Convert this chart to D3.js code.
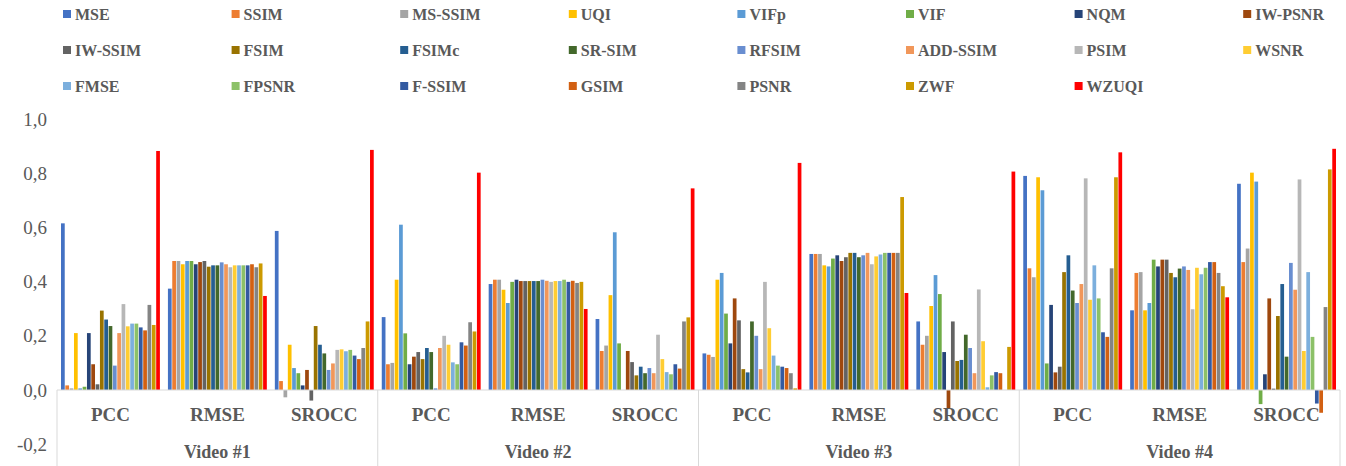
<!DOCTYPE html>
<html>
<head>
<meta charset="utf-8">
<script src="https://cdn.jsdelivr.net/npm/d3@7"></script>
<style>
  body { margin: 0; background: #fff; }
</style>
</head>
<body>
<script>
// metric names, in legend order
const series = ["MSE", "SSIM", "MS-SSIM", "UQI", "VIFp", "VIF", "NQM", "IW-PSNR",
  "IW-SSIM", "FSIM", "FSIMc", "SR-SIM", "RFSIM", "ADD-SSIM", "PSIM", "WSNR",
  "FMSE", "FPSNR", "F-SSIM", "GSIM", "PSNR", "ZWF", "WZUQI"];
const colors = ["#4472C4", "#ED7D31", "#A5A5A5", "#FFC000", "#5B9BD5", "#70AD47", "#264478", "#9E480E",
  "#636363", "#997300", "#255E91", "#43682B", "#698ED0", "#F1975A", "#B7B7B7", "#FFCD33",
  "#7CAFDD", "#8CC168", "#335AA1", "#D26012", "#848484", "#CC9A00", "#FF0000"];

const measures = ["PCC", "RMSE", "SROCC"];
const videos = ["Video #1", "Video #2", "Video #3", "Video #4"];
const yTicks = [-0.2, 0, 0.2, 0.4, 0.6, 0.8, 1.0];

// one array per (video, measure), values in series order
const v1PCC = [0.615, 0.017, 0.006, 0.21, 0.006, 0.012, 0.21, 0.095, 0.021, 0.293, 0.26, 0.236,
  0.09, 0.21, 0.317, 0.235, 0.245, 0.245, 0.231, 0.22, 0.314, 0.24, 0.882];
const v1RMSE = [0.374, 0.476, 0.476, 0.464, 0.476, 0.476, 0.464, 0.472, 0.476, 0.455, 0.46, 0.46,
  0.471, 0.464, 0.453, 0.46, 0.46, 0.46, 0.46, 0.464, 0.453, 0.467, 0.347];
const v1SROCC = [0.587, 0.033, -0.027, 0.167, 0.081, 0.062, 0.017, 0.074, -0.039, 0.236, 0.167, 0.135,
  0.074, 0.098, 0.148, 0.15, 0.143, 0.148, 0.127, 0.114, 0.155, 0.253, 0.886];
const v2PCC = [0.269, 0.095, 0.1, 0.407, 0.61, 0.209, 0.095, 0.123, 0.14, 0.114, 0.155, 0.14,
  0.006, 0.155, 0.2, 0.167, 0.102, 0.095, 0.176, 0.164, 0.25, 0.216, 0.802];
const v2RMSE = [0.391, 0.407, 0.407, 0.37, 0.321, 0.399, 0.407, 0.402, 0.402, 0.402, 0.402, 0.402,
  0.407, 0.403, 0.399, 0.402, 0.402, 0.407, 0.399, 0.403, 0.395, 0.399, 0.299];
const v2SROCC = [0.262, 0.144, 0.164, 0.35, 0.582, 0.172, 0, 0.144, 0.103, 0.054, 0.086, 0.062,
  0.081, 0.062, 0.204, 0.114, 0.066, 0.058, 0.095, 0.079, 0.253, 0.268, 0.744];
const v3PCC = [0.135, 0.13, 0.122, 0.407, 0.432, 0.282, 0.172, 0.338, 0.257, 0.077, 0.065, 0.253,
  0.2, 0.077, 0.399, 0.228, 0.127, 0.09, 0.086, 0.081, 0.062, 0.006, 0.838];
const v3RMSE = [0.502, 0.502, 0.502, 0.46, 0.456, 0.485, 0.497, 0.476, 0.49, 0.506, 0.506, 0.49,
  0.497, 0.506, 0.464, 0.493, 0.5, 0.506, 0.506, 0.506, 0.506, 0.712, 0.358];
const v3SROCC = [0.253, 0.167, 0.2, 0.31, 0.424, 0.354, 0.14, -0.068, 0.253, 0.107, 0.111, 0.204,
  0.155, 0.062, 0.371, 0.18, 0.01, 0.054, 0.066, 0.062, 0, 0.159, 0.806];
const v4PCC = [0.79, 0.449, 0.416, 0.785, 0.737, 0.098, 0.314, 0.065, 0.086, 0.435, 0.497, 0.367,
  0.321, 0.391, 0.781, 0.333, 0.46, 0.338, 0.213, 0.196, 0.449, 0.785, 0.877];
const v4RMSE = [0.294, 0.432, 0.435, 0.294, 0.321, 0.481, 0.456, 0.481, 0.481, 0.432, 0.416, 0.448,
  0.456, 0.443, 0.298, 0.451, 0.427, 0.451, 0.472, 0.472, 0.432, 0.383, 0.342];
const v4SROCC = [0.761, 0.472, 0.522, 0.802, 0.769, -0.052, 0.058, 0.338, 0.005, 0.273, 0.391, 0.123,
  0.469, 0.37, 0.777, 0.144, 0.435, 0.196, -0.05, -0.084, 0.306, 0.814, 0.89];

const table = [
  [v1PCC, v1RMSE, v1SROCC],
  [v2PCC, v2RMSE, v2SROCC],
  [v3PCC, v3RMSE, v3SROCC],
  [v4PCC, v4RMSE, v4SROCC]
];

const groups = [];
videos.forEach((v, i) => measures.forEach((m, j) => {
  groups.push({ key: v + "|" + m, video: v, measure: m, values: table[i][j] });
}));

const W = 1346, H = 466;
const plotLeft = 57, plotRight = 1340, plotTop = 119, zeroY = 390;
const axisGray = "#D9D9D9", textGray = "#595959";
const serif = "'Liberation Serif', Tinos, 'DejaVu Serif', serif";

const svg = d3.select("body").append("svg")
  .attr("width", W)
  .attr("height", H)
  .style("font-family", serif);

const y = d3.scaleLinear().domain([-0.2, 1.0]).range([zeroY + 0.2 * (zeroY - plotTop), plotTop]);

const x0 = d3.scaleBand()
  .domain(groups.map(d => d.key))
  .range([plotLeft, plotRight])
  .paddingInner(0.075)
  .paddingOuter(0.0375);

const x1 = d3.scaleBand()
  .domain(series)
  .range([0, x0.bandwidth()])
  .paddingInner(0.14);

const xVideo = d3.scaleBand().domain(videos).range([plotLeft, plotRight]);

// legend
const legend = svg.append("g");
series.forEach((s, i) => {
  const col = i % 8, row = Math.floor(i / 8);
  const g = legend.append("g").attr("transform", `translate(${63 + col * 168.6},${14 + row * 36})`);
  g.append("rect").attr("x", 0).attr("y", -4).attr("width", 8).attr("height", 8).attr("fill", colors[i]);
  g.append("text").attr("x", 12).attr("y", 0).attr("dy", "0.35em")
    .style("font-family", serif)
    .attr("font-size", 16).attr("font-weight", "bold").attr("fill", textGray).text(s);
});

// y axis labels
const yAxis = svg.append("g").attr("transform", `translate(${plotLeft},0)`)
  .call(d3.axisLeft(y).tickValues(yTicks).tickSize(0).tickPadding(10)
    .tickFormat(d => d3.format(".1f")(d).replace(".", ",").replace("−", "-")));
yAxis.select(".domain").remove();
yAxis.selectAll("text")
  .style("font-family", serif)
  .attr("font-size", 19)
  .attr("fill", textGray);

// bars
const groupSel = svg.append("g").selectAll("g")
  .data(groups)
  .join("g")
  .attr("transform", d => `translate(${x0(d.key)},0)`);

groupSel.selectAll("rect")
  .data(d => d.values.map((v, i) => ({ name: series[i], value: v, color: colors[i] })))
  .join("rect")
  .attr("x", d => x1(d.name))
  .attr("y", d => y(Math.max(0, d.value)))
  .attr("width", x1.bandwidth())
  .attr("height", d => Math.abs(y(d.value) - y(0)))
  .attr("fill", d => d.color);

// zero axis line
svg.append("line")
  .attr("x1", plotLeft).attr("x2", plotRight)
  .attr("y1", y(0)).attr("y2", y(0))
  .attr("stroke", axisGray).attr("stroke-width", 1);

// video separators
d3.range(videos.length + 1).forEach(i => {
  const xx = plotLeft + i * xVideo.step();
  svg.append("line")
    .attr("x1", xx).attr("x2", xx)
    .attr("y1", y(0)).attr("y2", H)
    .attr("stroke", axisGray).attr("stroke-width", 1);
});

// category labels
svg.append("g").selectAll("text")
  .data(groups)
  .join("text")
  .attr("x", d => x0(d.key) + x0.bandwidth() / 2)
  .attr("y", 414)
  .attr("dy", "0.35em")
  .attr("text-anchor", "middle")
  .style("font-family", serif)
  .attr("font-size", 19)
  .attr("font-weight", "bold")
  .attr("fill", textGray)
  .text(d => d.measure);

svg.append("g").selectAll("text")
  .data(videos)
  .join("text")
  .attr("x", d => xVideo(d) + xVideo.bandwidth() / 2)
  .attr("y", 452)
  .attr("dy", "0.35em")
  .attr("text-anchor", "middle")
  .style("font-family", serif)
  .attr("font-size", 18)
  .attr("font-weight", "bold")
  .attr("fill", textGray)
  .text(d => d);
</script>
</body>
</html>
